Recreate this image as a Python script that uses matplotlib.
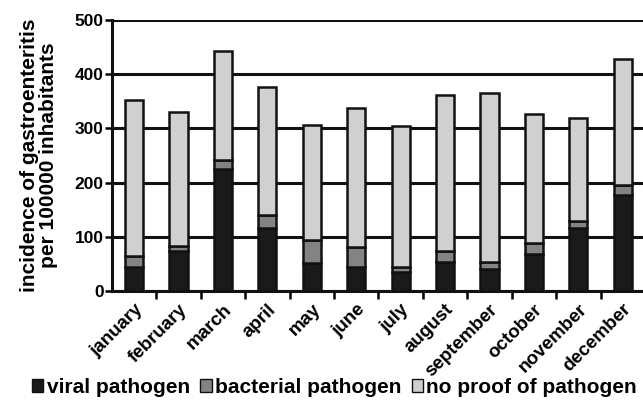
import numpy as np
import matplotlib.pyplot as plt
from matplotlib.patches import Patch

plt.rcParams['font.family'] = ['Liberation Sans', 'DejaVu Sans']
plt.rcParams['font.weight'] = 'bold'

months = ["january", "february", "march", "april", "may", "june",
          "july", "august", "september", "october", "november", "december"]
# cumulative tops, converted to segment heights below
viral = [45, 74, 225, 117, 52, 45, 36, 53, 41, 69, 116, 178]
viral_bact = [64, 83, 242, 140, 95, 81, 45, 74, 54, 89, 129, 196]
total = [352, 331, 443, 377, 307, 338, 304, 362, 366, 327, 320, 427]

viral = np.array(viral)
bacterial = np.array(viral_bact) - viral
no_proof = np.array(total) - np.array(viral_bact)

fig = plt.figure(figsize=(6.43, 4.05), dpi=100)
ax = fig.add_axes([0.174, 0.281, 0.829, 0.670])

x = np.arange(len(months))
w = 0.41
ec = "#111111"
ax.bar(x, viral, w, color="#1a1a1a", edgecolor=ec, linewidth=1.8, zorder=3)
ax.bar(x, bacterial, w, bottom=viral, color="#838383", edgecolor=ec, linewidth=1.8, zorder=3)
ax.bar(x, no_proof, w, bottom=viral + bacterial, color="#d0d0d0", edgecolor=ec, linewidth=1.8, zorder=3)

ax.set_xlim(-0.5, len(months) - 0.5)
ax.set_ylim(0, 500)
ax.set_yticks([0, 100, 200, 300, 400, 500])
ax.yaxis.grid(True, color="#111111", linewidth=2.2, zorder=0)
for s in ["top", "right"]:
    ax.spines[s].set_visible(False)
ax.spines["left"].set_linewidth(2.2)
ax.spines["bottom"].set_linewidth(2.2)
ax.spines["left"].set_color("#111111")
ax.spines["bottom"].set_color("#111111")

ax.set_xticks(x + 0.5, minor=False)
ax.set_xticklabels([])
ax.tick_params(axis="x", length=6, width=1.8, direction="out")
ax.tick_params(axis="y", length=5, width=1.8, direction="out", labelsize=12.5, pad=1)
ax.set_xticks(x, minor=True)
ax.set_xticklabels(months, minor=True, rotation=45, ha="right", va="top",
                   rotation_mode="anchor", fontsize=13.5, fontweight="bold")
ax.tick_params(axis="x", which="minor", length=0, pad=7)
for lab in ax.get_yticklabels():
    lab.set_fontweight("bold")

ax.set_ylabel("incidence of gastroenteritis\nper 100000 inhabitants",
              fontsize=15, fontweight="bold", linespacing=1.0, labelpad=12)

handles = [Patch(facecolor="#1a1a1a", edgecolor=ec, label="viral pathogen"),
           Patch(facecolor="#838383", edgecolor=ec, label="bacterial pathogen"),
           Patch(facecolor="#d0d0d0", edgecolor=ec, label="no proof of pathogen")]
fig.legend(handles=handles, loc="center", bbox_to_anchor=(0.52, 0.043), ncol=3,
           frameon=False, handlelength=0.55, handleheight=0.55, handletextpad=0.15,
           columnspacing=0.5, prop={"weight": "bold", "size": 15})

fig.savefig("out.png", dpi=100)
